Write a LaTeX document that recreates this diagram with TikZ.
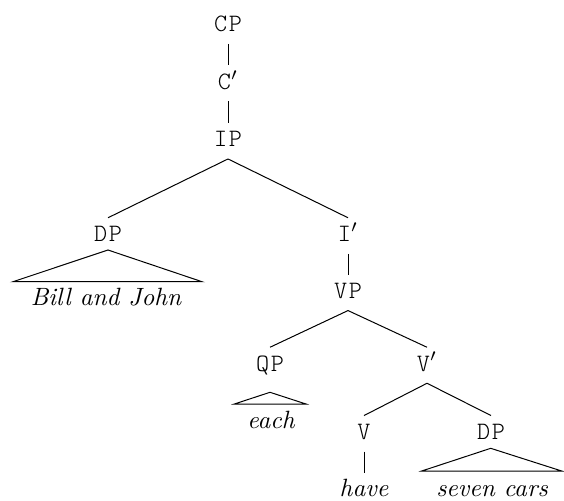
\documentclass[tikz,border=0pt]{standalone}
\usepackage{fontspec}
\setmonofont{lmmonolt10-regular.otf}[LetterSpace=7]
\begin{document}
\begin{tikzpicture}[x=0.4pt,y=-0.4pt,
  cat/.style={font=\ttfamily, text height=6pt, text depth=1.4pt, inner xsep=1pt, inner ysep=3.3pt, anchor=base},
  leaf/.style={font=\itshape, anchor=base, inner xsep=0pt, inner ysep=2.4pt},
  roof/.style={line join=miter}]
\useasboundingbox (0,0) rectangle (564,500);
\node[cat] (cp)  at (228,31.7)  {CP};
\node[cat] (c1)  at (228,89.2)  {C$'$};
\node[cat] (ip)  at (228,146.7) {IP};
\node[cat] (dp)  at (108,241.5) {DP};
\node[cat] (i1)  at (348,241.5) {I$'$};
\node[cat] (vp)  at (348,298.3) {VP};
\node[cat] (qp)  at (270,371)   {QP};
\node[cat] (v1)  at (427,371)   {V$'$};
\node[cat] (v)   at (364,439.3) {V};
\node[cat] (dp2) at (491,439.3) {DP};
\node[leaf] (bj)   at (106,305)   {Bill and John};
\node[leaf] (each) at (271,428.3) {each};
\node[leaf] (have) at (364,496.7) {have};
\node[leaf] (sc)   at (492,496.7) {seven cars};
\draw (cp.south) -- (c1.north);
\draw (c1.south) -- (ip.north);
\draw (ip.south) -- (dp.north);
\draw (ip.south) -- (i1.north);
\draw (i1.south) -- (vp.north);
\draw (vp.south) -- (qp.north);
\draw (vp.south) -- (v1.north);
\draw (v1.south) -- (v.north);
\draw (v1.south) -- (dp2.north);
\draw (v.south) -- (have.north);
\coordinate (r1) at (108,250);
\coordinate (r2) at (270,392.3);
\coordinate (r3) at (490.7,448.3);
\draw[roof] (r1) -- (13,281.7) -- (202,281.7) -- cycle;
\draw[roof] (r2) -- (234.3,404) -- (306,404) -- cycle;
\draw[roof] (r3) -- (421.7,471) -- (561.7,471) -- cycle;
\end{tikzpicture}
\end{document}
